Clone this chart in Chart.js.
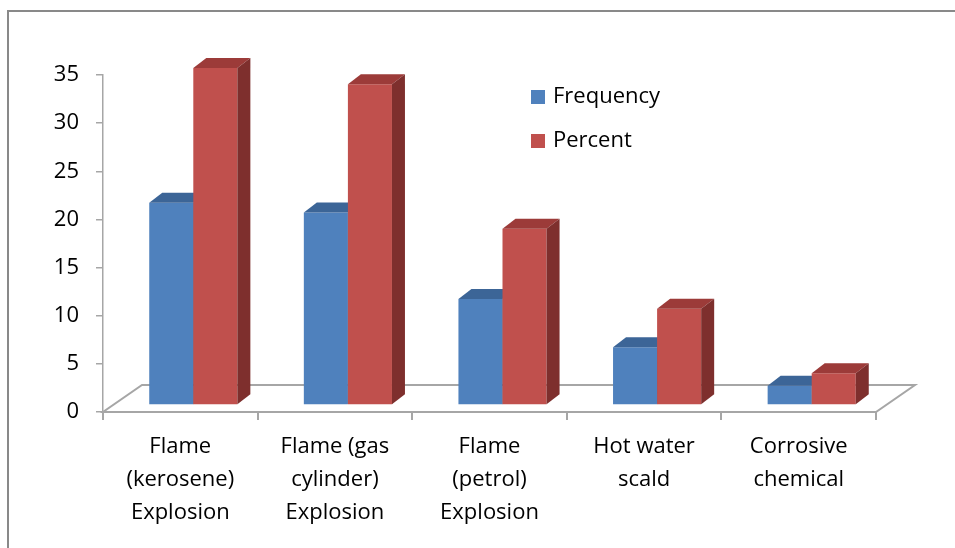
<!DOCTYPE html>
<html>
<head>
<meta charset="utf-8">
<script src="https://cdn.jsdelivr.net/npm/chart.js@4"></script>
<style>
  html, body { margin: 0; padding: 0; background: #fff; }
  canvas { display: block; }
</style>
</head>
<body>
<canvas id="burns" width="955" height="548"></canvas>
<script>
"use strict";

var categories = [
  ["Flame", "(kerosene)", "Explosion"],
  ["Flame (gas", "cylinder)", "Explosion"],
  ["Flame", "(petrol)", "Explosion"],
  ["Hot water", "scald"],
  ["Corrosive", "chemical"]
];
var frequency = [21, 20, 11, 6, 2];
var percent = [35, 33.3, 18.3, 10, 3.3];
var yTicks = { min: 0, max: 35, step: 5 };

var FONT = "'Open Sans', 'DejaVu Sans', sans-serif";

// how far the bars sit behind the axis plane, and how deep each bar is
var SHIFT_X = 13, SHIFT_Y = -7;
var DEPTH_X = 13, DEPTH_Y = -10;
// depth of the floor
var FLOOR_X = 39, FLOOR_Y = -27;

var shades = {
  "Frequency": { front: "#4F81BD", top: "#3C6597", side: "#2F5382" },
  "Percent":   { front: "#C0504D", top: "#9C3B39", side: "#7E2F2D" }
};

function poly(ctx, pts, fill) {
  ctx.beginPath();
  ctx.moveTo(pts[0][0], pts[0][1]);
  for (var i = 1; i < pts.length; i++) ctx.lineTo(pts[i][0], pts[i][1]);
  ctx.closePath();
  ctx.fillStyle = fill;
  ctx.fill();
}

var frame = {
  id: "frame",
  beforeDraw: function(chart) {
    var ctx = chart.ctx;
    ctx.save();
    ctx.strokeStyle = "#898989";
    ctx.lineWidth = 2;
    ctx.beginPath();
    ctx.moveTo(8, 548);
    ctx.lineTo(8, 11);
    ctx.lineTo(955, 11);
    ctx.stroke();
    ctx.restore();
  }
};

var depth3d = {
  id: "depth3d",
  beforeDatasetsDraw: function(chart) {
    var ctx = chart.ctx, a = chart.chartArea;
    ctx.save();
    ctx.beginPath();
    ctx.moveTo(a.left, a.bottom);
    ctx.lineTo(a.right, a.bottom);
    ctx.lineTo(a.right + FLOOR_X, a.bottom + FLOOR_Y);
    ctx.lineTo(a.left + FLOOR_X, a.bottom + FLOOR_Y);
    ctx.closePath();
    ctx.fillStyle = "#fff";
    ctx.fill();
    ctx.strokeStyle = "#A6A6A6";
    ctx.lineWidth = 2;
    ctx.stroke();
    ctx.restore();
  },
  // skip the normal pass, bars are drawn below in series order
  beforeDatasetDraw: function() {
    return false;
  },
  afterDatasetsDraw: function(chart) {
    var ctx = chart.ctx;
    ctx.save();
    ctx.translate(SHIFT_X, SHIFT_Y);
    chart.data.datasets.forEach(function(ds, i) {
      var c = shades[ds.label];
      chart.getDatasetMeta(i).data.forEach(function(bar) {
        bar.draw(ctx);
        var p = bar.getProps(["x", "y", "base", "width"], true);
        var l = p.x - p.width / 2, r = p.x + p.width / 2;
        poly(ctx, [[l, p.y], [r, p.y], [r + DEPTH_X, p.y + DEPTH_Y], [l + DEPTH_X, p.y + DEPTH_Y]], c.top);
        poly(ctx, [[r, p.y], [r + DEPTH_X, p.y + DEPTH_Y], [r + DEPTH_X, p.base + DEPTH_Y], [r, p.base]], c.side);
      });
    });
    ctx.restore();
  }
};

var legendBox = {
  id: "legendBox",
  afterDraw: function(chart) {
    var ctx = chart.ctx;
    ctx.save();
    ctx.font = "22px " + FONT;
    ctx.textBaseline = "middle";
    chart.data.datasets.forEach(function(ds, i) {
      var y = 97 + i * 44;
      ctx.fillStyle = ds.backgroundColor;
      ctx.fillRect(531, y - 7, 14, 14);
      ctx.fillStyle = "#000";
      ctx.fillText(ds.label, 553, y);
    });
    ctx.restore();
  }
};

new Chart(document.getElementById("burns"), {
  type: "bar",
  data: {
    labels: categories,
    datasets: [{
      label: "Frequency",
      data: frequency,
      backgroundColor: shades["Frequency"].front
    }, {
      label: "Percent",
      data: percent,
      backgroundColor: shades["Percent"].front
    }]
  },
  options: {
    responsive: false,
    animation: false,
    categoryPercentage: 0.57,
    barPercentage: 1.0,
    layout: { padding: { left: 0, right: 79, top: 75, bottom: 0 } },
    plugins: {
      legend: { display: false },
      tooltip: { enabled: false }
    },
    scales: {
      x: {
        afterFit: function(axis) { axis.height = 136; },
        grid: { drawOnChartArea: false, tickLength: 8, color: "#A6A6A6", lineWidth: 2 },
        border: { display: true, color: "#A6A6A6", width: 2 },
        ticks: {
          color: "#000",
          padding: 10,
          maxRotation: 0,
          autoSkip: false,
          font: { family: FONT, size: 22, lineHeight: 1.5 }
        }
      },
      y: {
        min: yTicks.min,
        max: yTicks.max,
        afterFit: function(axis) { axis.width = 103; },
        grid: { drawOnChartArea: false, tickLength: 7, color: "#A6A6A6", lineWidth: 1.5 },
        border: { display: true, color: "#A6A6A6", width: 1.5 },
        ticks: {
          stepSize: yTicks.step,
          color: "#000",
          padding: 17,
          font: { family: FONT, size: 22 }
        }
      }
    }
  },
  plugins: [frame, depth3d, legendBox]
});
</script>
</body>
</html>
